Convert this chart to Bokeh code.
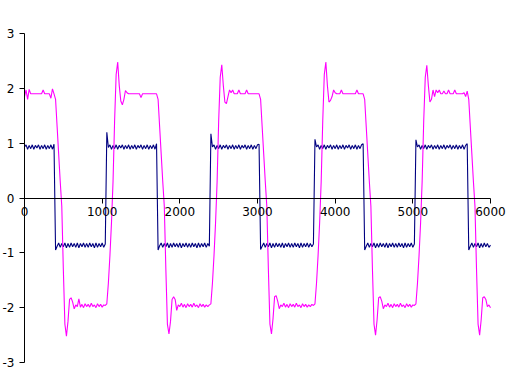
from bokeh.plotting import figure
from bokeh.models import Range1d, FixedTicker
from bokeh.embed import file_html
from bokeh.resources import INLINE

# ---- data ----
step = 20
seg_start = [0, 400, 1060, 1720, 2400, 3040, 3740, 4380, 5040, 5720]

navy_segs = [
    [0.93, 0.97, 0.89, 0.96, 0.90, 0.97, 0.89, 0.96, 0.91, 0.97,
     0.89, 0.96, 0.90, 0.97, 0.89, 0.96, 0.90, 0.97, 0.89, 0.98],
    [-0.95, -0.88, -0.82, -0.90, -0.83, -0.89, -0.82, -0.91, -0.83, -0.90,
     -0.82, -0.89, -0.83, -0.90, -0.82, -0.91, -0.83, -0.89, -0.82, -0.90,
     -0.83, -0.90, -0.82, -0.89, -0.83, -0.91, -0.82, -0.90, -0.83, -0.89,
     -0.82, -0.90, -0.84],
    [1.20, 0.92, 0.97, 0.89, 0.96, 0.90, 0.97, 0.89, 0.96, 0.91,
     0.97, 0.89, 0.96, 0.90, 0.97, 0.89, 0.96, 0.90, 0.97, 0.89,
     0.96, 0.91, 0.97, 0.89, 0.96, 0.90, 0.97, 0.89, 0.96, 0.90,
     0.97, 0.89, 0.99],
    [-0.95, -0.87, -0.82, -0.90, -0.83, -0.89, -0.82, -0.91, -0.83, -0.90,
     -0.82, -0.89, -0.83, -0.90, -0.82, -0.91, -0.83, -0.89, -0.82, -0.90,
     -0.83, -0.90, -0.82, -0.89, -0.83, -0.91, -0.82, -0.90, -0.83, -0.89,
     -0.82, -0.90, -0.83, -0.88],
    [1.17, 0.93, 0.97, 0.89, 0.96, 0.90, 0.97, 0.89, 0.96, 0.91,
     0.97, 0.89, 0.96, 0.90, 0.97, 0.89, 0.96, 0.90, 0.97, 0.89,
     0.96, 0.91, 0.97, 0.89, 0.96, 0.90, 0.97, 0.89, 0.96, 0.90,
     0.97, 0.98],
    [-0.94, -0.88, -0.82, -0.90, -0.83, -0.89, -0.82, -0.91, -0.83, -0.90,
     -0.82, -0.89, -0.83, -0.90, -0.82, -0.91, -0.83, -0.89, -0.82, -0.90,
     -0.83, -0.90, -0.82, -0.89, -0.83, -0.91, -0.82, -0.90, -0.83, -0.89,
     -0.82, -0.90, -0.83, -0.89, -0.84],
    [1.07, 0.93, 0.97, 0.89, 0.96, 0.90, 0.97, 0.89, 0.96, 0.91,
     0.97, 0.89, 0.96, 0.90, 0.97, 0.89, 0.96, 0.90, 0.97, 0.89,
     0.96, 0.91, 0.97, 0.89, 0.96, 0.90, 0.97, 0.89, 0.96, 0.90,
     0.97, 0.99],
    [-0.95, -0.88, -0.82, -0.90, -0.83, -0.89, -0.82, -0.91, -0.83, -0.90,
     -0.82, -0.89, -0.83, -0.90, -0.82, -0.91, -0.83, -0.89, -0.82, -0.90,
     -0.83, -0.90, -0.82, -0.89, -0.83, -0.91, -0.82, -0.90, -0.83, -0.89,
     -0.82, -0.90, -0.84],
    [1.06, 0.93, 0.97, 0.89, 0.96, 0.90, 0.97, 0.89, 0.96, 0.91,
     0.97, 0.89, 0.96, 0.90, 0.97, 0.89, 0.96, 0.90, 0.97, 0.89,
     0.96, 0.91, 0.97, 0.89, 0.96, 0.90, 0.97, 0.89, 0.96, 0.90,
     0.97, 0.89, 0.96, 0.99],
    [-0.95, -0.88, -0.82, -0.90, -0.83, -0.89, -0.82, -0.91, -0.83, -0.90,
     -0.82, -0.89, -0.83, -0.90, -0.86],
]

magenta_segs = [
    [1.85, 1.97, 1.80, 1.98, 1.90, 1.90, 1.90, 1.90, 1.90, 1.90,
     1.90, 1.90, 1.97, 1.90, 1.90, 1.90, 1.90, 1.82, 1.99, 1.90],
    [1.80, 1.30, 0.80, 0.30, -0.15, -1.30, -2.30, -2.52, -2.25, -1.85,
     -1.82, -1.90, -2.02, -1.95, -1.98, -1.84, -1.99, -1.94, -2.00, -1.93,
     -1.98, -1.94, -1.99, -1.92, -1.98, -1.95, -2.00, -1.93, -1.98, -1.94,
     -1.99, -1.95, -1.96],
    [-1.93, -1.55, -1.05, -0.45, 0.30, 1.40, 2.25, 2.48, 2.05, 1.77,
     1.70, 1.80, 1.96, 1.92, 1.90, 1.90, 1.90, 1.90, 1.90, 1.90,
     1.90, 1.90, 1.83, 1.90, 1.90, 1.90, 1.90, 1.90, 1.90, 1.90,
     1.90, 1.90, 1.90],
    [1.80, 1.30, 0.80, 0.30, -0.15, -1.30, -2.30, -2.48, -2.25, -1.85,
     -1.80, -1.85, -2.05, -1.95, -1.98, -1.92, -1.99, -1.94, -2.00, -1.93,
     -1.98, -1.94, -1.99, -1.92, -1.98, -1.95, -2.00, -1.93, -1.98, -1.94,
     -1.99, -1.95, -1.98, -1.95],
    [-1.93, -1.55, -1.05, -0.45, 0.30, 1.40, 2.20, 2.43, 2.05, 1.75,
     1.72, 1.85, 1.97, 1.92, 1.97, 1.90, 1.90, 1.90, 1.97, 1.90,
     1.90, 1.90, 1.90, 1.97, 1.90, 1.90, 1.90, 1.90, 1.90, 1.90,
     1.90, 1.90],
    [1.80, 1.30, 0.80, 0.30, -0.15, -1.30, -2.30, -2.48, -2.20, -1.80,
     -1.78, -1.88, -2.02, -1.95, -1.98, -1.92, -1.99, -1.94, -2.00, -1.93,
     -1.98, -1.94, -1.99, -1.92, -1.98, -1.95, -2.00, -1.93, -1.98, -1.94,
     -1.99, -1.95, -1.98, -1.94, -1.96],
    [-1.93, -1.55, -1.05, -0.45, 0.30, 1.40, 2.25, 2.48, 2.05, 1.75,
     1.78, 1.85, 1.97, 1.92, 1.90, 1.90, 1.90, 1.97, 1.90, 1.90,
     1.90, 1.90, 1.90, 1.90, 1.90, 1.90, 1.90, 1.97, 1.90, 1.90,
     1.90, 1.90],
    [1.80, 1.30, 0.80, 0.30, -0.15, -1.30, -2.30, -2.50, -2.22, -1.82,
     -1.80, -1.88, -2.02, -1.95, -1.98, -1.92, -1.99, -1.94, -2.00, -1.93,
     -1.98, -1.94, -1.99, -1.92, -1.98, -1.95, -2.00, -1.93, -1.98, -1.94,
     -1.99, -1.95, -1.96],
    [-1.93, -1.55, -1.05, -0.45, 0.30, 1.40, 2.20, 2.42, 2.05, 1.75,
     1.80, 1.97, 1.85, 1.97, 1.92, 1.97, 1.90, 1.90, 1.95, 1.90,
     1.90, 1.97, 1.90, 1.90, 1.90, 1.97, 1.90, 1.90, 1.90, 1.90,
     1.90, 1.92, 1.85, 1.95],
    [1.80, 1.30, 0.80, 0.30, -0.15, -1.30, -2.30, -2.50, -2.22, -1.82,
     -1.80, -1.85, -1.98, -1.95, -2.00],
]

x_ticks = [0, 1000, 2000, 3000, 4000, 5000, 6000]
y_ticks = [-3, -2, -1, 0, 1, 2, 3]
x_lo, x_hi = 0, 6000
y_lo, y_hi = -3, 3


def build(segs):
    xs, ys = [], []
    for x0, vals in zip(seg_start, segs):
        xs += [x0 + step * j for j in range(len(vals))]
        ys += vals
    return xs, ys


nx, ny = build(navy_segs)
mx, my = build(magenta_segs)

# frame fills the page; axes are pinned at 0 so their labels are not clipped
W, H = 506, 370
left_px, right_px, top_px, bot_px = 24, 16, 33, 8
ux = (x_hi - x_lo) / (W - left_px - right_px)
uy = (y_hi - y_lo) / (H - top_px - bot_px)

p = figure(width=W, height=H,
           x_range=Range1d(x_lo - left_px * ux, x_hi + right_px * ux),
           y_range=Range1d(y_lo - bot_px * uy, y_hi + top_px * uy),
           output_backend="svg", toolbar_location=None,
           min_border_left=0, min_border_right=0, min_border_top=0, min_border_bottom=0)

p.line(nx, ny, line_color="#000080", line_width=1.1)
p.line(mx, my, line_color="#FF00FF", line_width=1.1)

p.grid.visible = False
p.outline_line_color = None
p.background_fill_color = "white"
p.border_fill_color = "white"

p.xaxis.fixed_location = 0
p.yaxis.fixed_location = 0
p.xaxis.bounds = (x_lo, x_hi)
p.yaxis.bounds = (y_lo, y_hi)
p.xaxis.ticker = FixedTicker(ticks=x_ticks)
p.yaxis.ticker = FixedTicker(ticks=y_ticks)
p.yaxis.major_label_overrides = {t: str(t) for t in y_ticks}
p.xaxis.major_label_overrides = {t: str(t) for t in x_ticks}
for ax in (p.xaxis, p.yaxis):
    ax.axis_line_color = "black"
    ax.major_tick_line_color = "black"
    ax.minor_tick_line_color = None
    ax.major_tick_out = 5
    ax.major_tick_in = 0
    ax.major_label_text_font = "DejaVu Sans"
    ax.major_label_text_font_size = "12px"
    ax.major_label_text_color = "black"
p.xaxis.major_label_standoff = 4
p.yaxis.major_label_standoff = 5

open("out.html", "w").write(file_html(p, INLINE))
